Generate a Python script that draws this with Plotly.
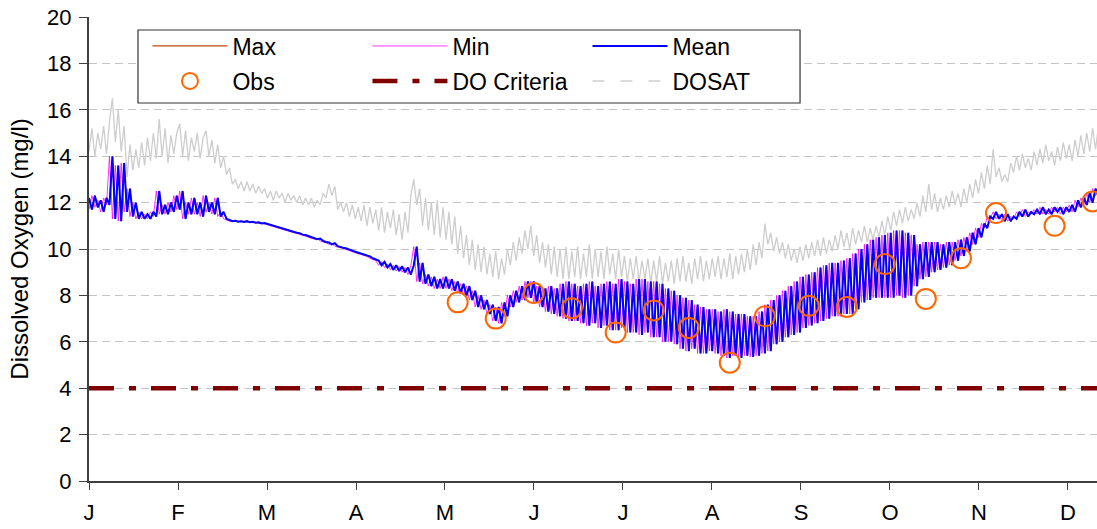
import plotly.graph_objects as go

# ---------------- data ----------------
month_labels = ["J", "F", "M", "A", "M", "J", "J", "A", "S", "O", "N", "D"]

mean_do = [
    12.2, 11.7, 12.3, 11.8, 12.1, 11.6, 12.2, 11.9, 14.0, 11.3,
    13.6, 11.2, 13.7, 11.6, 12.6, 11.4, 12.0, 11.3, 11.6, 11.3,
    11.5, 11.3, 11.6, 11.4, 12.5, 11.5, 11.9, 11.5, 12.0, 11.6,
    12.3, 11.7, 12.5, 11.3, 12.0, 11.5, 12.2, 11.5, 12.0, 11.4,
    12.3, 11.6, 12.0, 11.5, 12.2, 11.4, 11.6, 11.3, 11.25, 11.2,
    11.22, 11.18, 11.2, 11.17, 11.2, 11.15, 11.17, 11.13, 11.15, 11.1,
    11.12, 11.08, 11.05, 11.0, 10.98, 10.92, 10.9, 10.84, 10.82, 10.76,
    10.74, 10.7, 10.68, 10.62, 10.6, 10.55, 10.52, 10.48, 10.42, 10.45,
    10.35, 10.3, 10.28, 10.2, 10.25, 10.12, 10.1, 10.05, 10.02, 9.96,
    9.93, 9.88, 9.84, 9.8, 9.76, 9.7, 9.68, 9.6, 9.55, 9.5,
    9.3, 9.45, 9.2, 9.35, 9.1, 9.3, 9.05, 9.25, 9.0, 9.2,
    8.9, 9.3, 10.1, 8.6, 9.4, 8.5, 8.9, 8.4, 8.8, 8.3,
    8.7, 8.3, 8.8, 8.3, 8.7, 8.2, 8.6, 8.1, 8.5, 8.0,
    8.4, 7.8, 8.2, 7.5, 8.0, 7.4, 7.8, 7.2, 7.6, 6.9,
    7.5, 6.8, 7.7, 7.1, 8.0, 7.5, 8.2, 7.7, 8.4, 7.8,
    8.6, 7.9, 8.6, 7.7, 8.4, 7.5, 8.3, 7.3, 8.4, 7.2,
    8.3, 7.1, 8.5, 7.0, 8.6, 6.9, 8.5, 6.9, 8.4, 6.8,
    8.5, 6.7, 8.6, 6.8, 8.4, 6.6, 8.5, 6.7, 8.6, 6.5,
    8.5, 6.5, 8.7, 6.6, 8.6, 6.4, 8.5, 6.4, 8.7, 6.3,
    8.7, 6.4, 8.6, 6.2, 8.6, 6.2, 8.5, 6.0, 8.3, 6.0,
    8.2, 5.9, 8.0, 5.7, 7.9, 5.6, 7.8, 5.7, 7.6, 5.5,
    7.5, 5.5, 7.4, 5.6, 7.4, 5.5, 7.3, 5.4, 7.4, 5.3,
    7.3, 5.4, 7.2, 5.3, 7.2, 5.4, 7.1, 5.35, 7.1, 5.4,
    7.3, 5.5, 7.6, 5.6, 7.8, 5.9, 8.0, 6.0, 8.2, 6.2,
    8.4, 6.3, 8.6, 6.4, 8.8, 6.6, 8.9, 6.7, 9.0, 6.8,
    9.2, 6.9, 9.3, 7.0, 9.4, 7.1, 9.4, 7.1, 9.5, 7.2,
    9.6, 7.2, 9.8, 7.4, 10.0, 7.7, 10.2, 7.8, 10.4, 7.9,
    10.5, 7.9, 10.6, 7.9, 10.7, 7.9, 10.8, 8.0, 10.8, 7.9,
    10.7, 8.0, 10.6, 8.4, 10.2, 8.7, 10.3, 8.8, 10.3, 9.0,
    10.3, 9.1, 10.2, 9.2, 10.3, 9.3, 10.3, 9.5, 10.4, 9.7,
    10.5, 9.9, 10.7, 10.2, 10.9, 10.5, 11.1, 10.9, 11.4, 11.3,
    11.6, 11.3, 11.5, 11.2, 11.5, 11.2, 11.4, 11.3, 11.6, 11.4,
    11.7, 11.4, 11.6, 11.5, 11.7, 11.5, 11.8, 11.5, 11.7, 11.5,
    11.8, 11.6, 11.8, 11.5, 11.8, 11.6, 11.9, 11.6, 12.1, 11.8,
    12.2, 11.9, 12.4, 12.0, 12.6, 12.3,
]

max_do = [
    12.2, 11.7, 12.3, 11.8, 12.1, 11.6, 12.2, 11.9, 14.0, 11.3,
    13.6, 11.2, 13.7, 11.6, 12.6, 11.4, 12.0, 11.3, 11.6, 11.3,
    11.5, 11.3, 11.6, 11.4, 12.5, 11.5, 11.9, 11.5, 12.0, 11.6,
    12.3, 11.7, 12.5, 11.3, 12.0, 11.5, 12.2, 11.5, 12.0, 11.4,
    12.3, 11.6, 12.0, 11.5, 12.2, 11.4, 11.6, 11.3, 11.25, 11.2,
    11.22, 11.18, 11.2, 11.17, 11.2, 11.15, 11.17, 11.13, 11.15, 11.1,
    11.12, 11.08, 11.05, 11.0, 10.98, 10.92, 10.9, 10.84, 10.82, 10.76,
    10.74, 10.7, 10.68, 10.62, 10.6, 10.55, 10.52, 10.48, 10.42, 10.45,
    10.35, 10.3, 10.28, 10.2, 10.25, 10.12, 10.1, 10.05, 10.02, 9.96,
    9.93, 9.88, 9.84, 9.8, 9.76, 9.7, 9.68, 9.6, 9.55, 9.5,
    9.3, 9.45, 9.2, 9.35, 9.1, 9.3, 9.05, 9.25, 9.0, 9.2,
    8.9, 9.3, 10.1, 8.6, 9.4, 8.5, 8.9, 8.4, 8.8, 8.3,
    8.7, 8.3, 8.8, 8.3, 8.7, 8.2, 8.6, 8.1, 8.5, 8.0,
    8.4, 7.8, 8.2, 7.5, 8.0, 7.4, 7.8, 7.2, 7.6, 6.9,
    7.5, 6.8, 7.7, 7.1, 8.0, 7.5, 8.2, 7.7, 8.4, 7.8,
    8.6, 7.9, 8.6, 7.7, 8.4, 7.5, 8.3, 7.3, 8.4, 7.2,
    8.3, 7.1, 8.5, 7.0, 8.6, 6.9, 8.5, 6.9, 8.4, 6.8,
    8.5, 6.7, 8.6, 6.8, 8.4, 6.6, 8.5, 6.7, 8.6, 6.5,
    8.5, 6.5, 8.7, 6.6, 8.6, 6.4, 8.5, 6.4, 8.7, 6.3,
    8.7, 6.4, 8.6, 6.2, 8.6, 6.2, 8.5, 6.0, 8.3, 6.0,
    8.2, 5.9, 8.0, 5.7, 7.9, 5.6, 7.8, 5.7, 7.6, 5.5,
    7.5, 5.5, 7.4, 5.6, 7.4, 5.5, 7.3, 5.4, 7.4, 5.3,
    7.3, 5.4, 7.2, 5.3, 7.2, 5.4, 7.1, 5.35, 7.1, 5.4,
    7.3, 5.5, 7.6, 5.6, 7.8, 5.9, 8.0, 6.0, 8.2, 6.2,
    8.4, 6.3, 8.6, 6.4, 8.8, 6.6, 8.9, 6.7, 9.0, 6.8,
    9.2, 6.9, 9.3, 7.0, 9.4, 7.1, 9.4, 7.1, 9.5, 7.2,
    9.6, 7.2, 9.8, 7.4, 10.0, 7.7, 10.2, 7.8, 10.4, 7.9,
    10.5, 7.9, 10.6, 7.9, 10.7, 7.9, 10.8, 8.0, 10.8, 7.9,
    10.7, 8.0, 10.6, 8.4, 10.2, 8.7, 10.3, 8.8, 10.3, 9.0,
    10.3, 9.1, 10.2, 9.2, 10.3, 9.3, 10.3, 9.5, 10.4, 9.7,
    10.5, 9.9, 10.7, 10.2, 10.9, 10.5, 11.1, 10.9, 11.4, 11.3,
    11.6, 11.3, 11.5, 11.2, 11.5, 11.2, 11.4, 11.3, 11.6, 11.4,
    11.7, 11.4, 11.6, 11.5, 11.7, 11.5, 11.8, 11.5, 11.7, 11.5,
    11.8, 11.6, 11.8, 11.5, 11.8, 11.6, 11.9, 11.6, 12.1, 11.8,
    12.2, 11.9, 12.4, 12.0, 12.6, 12.3,
]

min_do = [
    11.7, 12.3, 11.8, 12.1, 11.6, 12.2, 11.9, 14.0, 11.3, 13.6,
    11.2, 13.7, 11.6, 12.6, 11.4, 12.0, 11.3, 11.6, 11.3, 11.5,
    11.3, 11.6, 11.4, 12.5, 11.5, 11.9, 11.5, 12.0, 11.6, 12.3,
    11.7, 12.5, 11.3, 12.0, 11.5, 12.2, 11.5, 12.0, 11.4, 12.3,
    11.6, 12.0, 11.5, 12.2, 11.4, 11.6, 11.3, 11.25, 11.2, 11.22,
    11.18, 11.2, 11.17, 11.2, 11.15, 11.17, 11.13, 11.15, 11.1, 11.12,
    11.08, 11.05, 11.0, 10.98, 10.92, 10.9, 10.84, 10.82, 10.76, 10.74,
    10.7, 10.68, 10.62, 10.6, 10.55, 10.52, 10.48, 10.42, 10.45, 10.35,
    10.3, 10.28, 10.2, 10.25, 10.12, 10.1, 10.05, 10.02, 9.96, 9.93,
    9.88, 9.84, 9.8, 9.76, 9.7, 9.68, 9.6, 9.55, 9.5, 9.3,
    9.45, 9.2, 9.35, 9.1, 9.3, 9.05, 9.25, 9.0, 9.2, 8.9,
    9.3, 10.1, 8.6, 9.4, 8.5, 8.9, 8.4, 8.8, 8.3, 8.7,
    8.3, 8.8, 8.3, 8.7, 8.2, 8.6, 8.1, 8.5, 8.0, 8.4,
    7.8, 8.2, 7.5, 8.0, 7.4, 7.8, 7.2, 7.6, 6.9, 7.5,
    6.8, 7.7, 7.1, 8.0, 7.5, 8.2, 7.7, 8.4, 7.8, 8.6,
    7.9, 8.6, 7.7, 8.4, 7.5, 8.3, 7.3, 8.4, 7.2, 8.3,
    7.1, 8.5, 7.0, 8.6, 6.9, 8.5, 6.9, 8.4, 6.8, 8.5,
    6.7, 8.6, 6.8, 8.4, 6.6, 8.5, 6.7, 8.6, 6.5, 8.5,
    6.5, 8.7, 6.6, 8.6, 6.4, 8.5, 6.4, 8.7, 6.3, 8.7,
    6.4, 8.6, 6.2, 8.6, 6.2, 8.5, 6.0, 8.3, 6.0, 8.2,
    5.9, 8.0, 5.7, 7.9, 5.6, 7.8, 5.7, 7.6, 5.5, 7.5,
    5.5, 7.4, 5.6, 7.4, 5.5, 7.3, 5.4, 7.4, 5.3, 7.3,
    5.4, 7.2, 5.3, 7.2, 5.4, 7.1, 5.35, 7.1, 5.4, 7.3,
    5.5, 7.6, 5.6, 7.8, 5.9, 8.0, 6.0, 8.2, 6.2, 8.4,
    6.3, 8.6, 6.4, 8.8, 6.6, 8.9, 6.7, 9.0, 6.8, 9.2,
    6.9, 9.3, 7.0, 9.4, 7.1, 9.4, 7.1, 9.5, 7.2, 9.6,
    7.2, 9.8, 7.4, 10.0, 7.7, 10.2, 7.8, 10.4, 7.9, 10.5,
    7.9, 10.6, 7.9, 10.7, 7.9, 10.8, 8.0, 10.8, 7.9, 10.7,
    8.0, 10.6, 8.4, 10.2, 8.7, 10.3, 8.8, 10.3, 9.0, 10.3,
    9.1, 10.2, 9.2, 10.3, 9.3, 10.3, 9.5, 10.4, 9.7, 10.5,
    9.9, 10.7, 10.2, 10.9, 10.5, 11.1, 10.9, 11.4, 11.3, 11.6,
    11.3, 11.5, 11.2, 11.5, 11.2, 11.4, 11.3, 11.6, 11.4, 11.7,
    11.4, 11.6, 11.5, 11.7, 11.5, 11.8, 11.5, 11.7, 11.5, 11.8,
    11.6, 11.8, 11.5, 11.8, 11.6, 11.9, 11.6, 12.1, 11.8, 12.2,
    11.9, 12.4, 12.0, 12.6, 12.3, 12.5,
]

dosat = [
    14.2, 15.2, 14.0, 15.0, 14.3, 15.3, 14.1, 15.5, 16.5, 14.6,
    16.0, 14.2, 15.3, 13.1, 14.5, 13.4, 14.3, 13.5, 14.6, 13.6,
    14.8, 13.8, 15.0, 13.9, 15.6, 14.0, 15.2, 13.7, 14.9, 14.1,
    15.0, 15.4, 14.0, 15.1, 13.8, 14.8, 14.2, 15.0, 13.9, 14.8,
    15.1, 14.0, 14.7, 13.7, 14.5, 13.5, 14.0, 13.2, 13.5, 12.8,
    13.0, 12.6, 12.9, 12.5, 12.9, 12.5, 12.8, 12.4, 12.7, 12.4,
    12.6, 12.2, 12.5, 12.1, 12.5, 12.2, 12.4, 12.0, 12.4, 12.1,
    12.3, 12.0, 12.3, 11.9, 12.2, 11.9, 12.2, 11.8, 12.1, 11.9,
    12.4, 12.2, 12.8, 12.3, 12.7, 11.7, 12.0, 11.6, 12.0, 11.4,
    11.9, 11.3, 11.8, 11.2, 11.9, 11.0, 11.8, 11.1, 11.7, 10.8,
    11.8, 10.7, 11.6, 10.9, 11.7, 10.6, 11.5, 10.4, 11.6, 10.7,
    12.3, 13.0, 11.9, 12.6, 11.0, 12.2, 10.8, 12.0, 10.6, 12.1,
    10.5, 11.8, 10.4, 11.6, 10.2, 11.4, 9.8, 11.0, 9.6, 10.6,
    9.3, 10.4, 9.1, 10.2, 9.0, 10.1, 8.9, 9.8, 8.8, 9.9,
    8.7, 9.6, 8.9, 10.0, 9.3, 10.3, 9.5, 10.5, 9.8, 10.8,
    10.0, 11.0, 9.7, 10.6, 9.4, 10.3, 9.2, 10.2, 8.9, 10.1,
    8.8, 10.0, 8.7, 10.1, 8.7, 9.9, 8.8, 10.1, 8.7, 9.8,
    8.8, 10.2, 8.7, 10.0, 8.8, 9.9, 8.7, 10.1, 8.9, 9.8,
    8.7, 10.0, 8.8, 9.7, 8.6, 9.6, 8.7, 9.7, 8.6, 9.5,
    8.7, 9.6, 8.5, 9.5, 8.6, 9.7, 8.5, 9.4, 8.6, 9.5,
    8.5, 9.6, 8.6, 9.7, 8.6, 9.4, 8.5, 9.6, 8.7, 9.7,
    8.6, 9.5, 8.7, 9.6, 8.8, 9.7, 8.7, 9.6, 8.8, 9.8,
    8.7, 9.7, 8.9, 9.8, 9.0, 10.0, 9.1, 10.2, 9.3, 10.3,
    9.6, 11.1, 10.2, 10.7, 9.9, 10.5, 9.8, 10.3, 9.6, 10.2,
    9.5, 10.0, 9.4, 10.1, 9.5, 10.2, 9.6, 10.3, 9.7, 10.4,
    9.7, 10.5, 9.8, 10.4, 9.9, 10.6, 10.0, 10.8, 10.1, 10.7,
    10.0, 10.9, 10.2, 10.8, 10.3, 11.0, 10.3, 10.9, 10.4, 11.0,
    10.5, 11.2, 10.6, 11.4, 10.8, 11.6, 11.0, 11.7, 11.1, 11.8,
    11.2, 11.7, 11.3, 12.0, 11.4, 12.3, 11.6, 12.8, 11.7, 12.4,
    11.6, 12.2, 11.7, 12.3, 11.8, 12.5, 11.9, 12.4, 11.8, 12.6,
    12.0, 12.8, 12.2, 13.0, 12.4, 13.3, 12.6, 13.6, 12.8, 14.3,
    13.1, 13.5, 12.9, 13.2, 12.9, 13.7, 13.3, 14.0, 13.4, 14.1,
    13.5, 13.9, 13.4, 14.2, 13.6, 14.3, 13.7, 14.5, 13.8, 14.2,
    13.6, 14.4, 13.8, 14.6, 13.9, 14.5, 13.8, 14.7, 14.0, 14.9,
    14.1, 15.0, 14.2, 15.2, 14.3, 15.3,
]

days = list(range(len(mean_do)))

obs_day = [126, 139, 152, 165, 180, 193, 205, 219, 231, 246, 259, 272, 286, 298, 310, 330, 343]
obs_do = [7.7, 7.0, 8.1, 7.45, 6.4, 7.35, 6.6, 5.1, 7.1, 7.55, 7.5, 9.35, 7.85, 9.6, 11.55, 11.0, 12.05]

crit_day = [0, 345]
crit_do = [4, 4]

# ---------------- figure ----------------
FONT = "Liberation Sans, Arial, sans-serif"
fig = go.Figure()

fig.add_trace(go.Scatter(x=days, y=dosat, mode="lines", name="DOSAT",
                         line=dict(color="#CDCDCD", width=1.3), showlegend=False))
fig.add_trace(go.Scatter(x=days, y=max_do, mode="lines", name="Max",
                         line=dict(color="#C04A10", width=1.2), legend="legend"))
fig.add_trace(go.Scatter(x=days, y=min_do, mode="lines", name="Min",
                         line=dict(color="#FF00FF", width=0.8), legend="legend"))
fig.add_trace(go.Scatter(x=days, y=mean_do, mode="lines", name="Mean",
                         line=dict(color="#0000FF", width=2.0), legend="legend"))
fig.add_trace(go.Scatter(x=obs_day, y=obs_do, mode="markers", name="Obs",
                         marker=dict(symbol="circle-open", size=20, color="#FF6600",
                                     line=dict(width=2, color="#FF6600")),
                         legend="legend2"))
fig.add_trace(go.Scatter(x=crit_day, y=crit_do, mode="lines", name="DO Criteria",
                         line=dict(color="#800000", width=4.5, dash="25px,15px,7px,15px"),
                         legend="legend2"))
fig.add_trace(go.Scatter(x=[None], y=[None], mode="lines", name="DOSAT",
                         line=dict(color="#D0D0D0", width=1.5, dash="12px,16px"),
                         legend="legend2"))

tickpos = [i * 365 / 12 for i in range(len(month_labels))]

leg_common = dict(orientation="h", xanchor="left", yanchor="middle",
                  bgcolor="rgba(0,0,0,0)", borderwidth=0,
                  font=dict(family=FONT, size=23, color="black"),
                  itemwidth=75, entrywidth=130, tracegroupgap=0)

fig.update_layout(
    width=1097, height=529,
    margin=dict(l=89, r=0, t=17, b=48),
    paper_bgcolor="white", plot_bgcolor="white",
    font=dict(family=FONT, size=22, color="black"),
    legend=dict(x=0.058, y=0.9375, **leg_common),
    legend2=dict(x=0.058, y=0.862, **leg_common),
    shapes=[dict(type="rect", xref="paper", yref="paper",
                 x0=0.0486, x1=0.7054, y0=0.8147, y1=0.972,
                 line=dict(color="#333333", width=1.2), fillcolor="white", layer="above")],
    xaxis=dict(range=[0, 344.5], tickmode="array", tickvals=tickpos, ticktext=month_labels,
               automargin=False, ticklabeloverflow="allow",
               showgrid=False, zeroline=False, showline=True, linecolor="#404040", linewidth=2,
               ticks="outside", ticklen=7, tickwidth=1, tickcolor="#404040",
               tickfont=dict(family=FONT, size=22, color="black"), ticklabelstandoff=4),
    yaxis=dict(range=[0, 20], dtick=2, tick0=0, automargin=False, ticklabeloverflow="allow",
               showgrid=True, gridcolor="#C4C4C4", gridwidth=1, griddash="8px,5px",
               zeroline=False, showline=True, linecolor="#404040", linewidth=2,
               ticks="outside", ticklen=8, tickwidth=1, tickcolor="#404040",
               tickfont=dict(family=FONT, size=22, color="black"), ticklabelstandoff=3,
               title=dict(text="Dissolved Oxygen (mg/l)", font=dict(family=FONT, size=24),
                          standoff=12)),
)

# remove the default page margin so the figure sits at the window origin
fig.write_html("out.html", config={"displayModeBar": False},
               post_script="document.body.style.margin='0';")
